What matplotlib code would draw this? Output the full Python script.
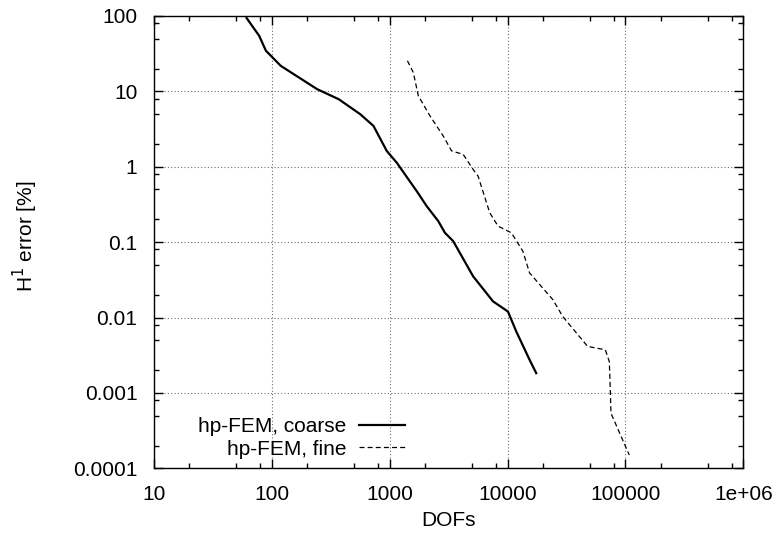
import matplotlib
matplotlib.use("Agg")
import matplotlib.pyplot as plt
from matplotlib.ticker import LogLocator, NullFormatter

# --- data ---
coarse_dofs = [61, 78, 89, 119, 242, 369, 562, 728, 944, 1148, 1694, 2060,
               2582, 2940, 3458, 5100, 7520, 10070, 11850, 15370, 17500]
coarse_err = [94, 54.7, 34.6, 21.8, 10.7, 7.87, 4.98, 3.48, 1.62, 1.13, 0.475, 0.30,
              0.19, 0.133, 0.103, 0.0352, 0.0164, 0.0120, 0.00653, 0.00275, 0.00183]

fine_dofs = [1413, 1585, 1750, 2197, 2844, 3350, 4200, 5097, 5620, 7060, 8300,
             10770, 13490, 15370, 24200, 29400, 47800, 67500, 73000, 74400, 75400, 107800]
fine_err = [25.5, 17.8, 8.7, 4.72, 2.56, 1.62, 1.46, 0.923, 0.75, 0.245, 0.163,
            0.133, 0.0757, 0.039, 0.0173, 0.0103, 0.00413, 0.00373, 0.0026, 0.0011,
            0.000537, 0.00015]

xticks = [10, 100, 1000, 10000, 100000, 1000000]
xtick_labels = ["10", "100", "1000", "10000", "100000", "1e+06"]
yticks = [0.0001, 0.001, 0.01, 0.1, 1, 10, 100]
ytick_labels = ["0.0001", "0.001", "0.01", "0.1", "1", "10", "100"]

plt.rcParams['font.family'] = ['Liberation Sans', 'DejaVu Sans']
plt.rcParams['font.size'] = 15

fig = plt.figure(figsize=(7.81, 5.38), dpi=100)
ax = fig.add_axes([0.1972, 0.1296, 0.7545, 0.8407])

ax.plot(coarse_dofs, coarse_err, color='black', lw=1.6, label='hp-FEM, coarse')
ax.plot(fine_dofs, fine_err, color='black', lw=0.9, dashes=(4, 2.5),
        label='hp-FEM, fine')

ax.set_xscale('log')
ax.set_yscale('log')
ax.set_xlim(10, 1e6)
ax.set_ylim(1e-4, 100)

ax.set_xticks(xticks)
ax.set_xticklabels(xtick_labels)
ax.set_yticks(yticks)
ax.set_yticklabels(ytick_labels)
ax.xaxis.set_minor_locator(LogLocator(base=10, subs=[2, 5, 8]))
ax.yaxis.set_minor_locator(LogLocator(base=10, subs=[2, 5, 8]))
ax.xaxis.set_minor_formatter(NullFormatter())
ax.yaxis.set_minor_formatter(NullFormatter())

ax.tick_params(which='both', direction='in', top=True, right=True, width=1)
ax.tick_params(which='major', length=6.5, pad=12)
ax.tick_params(which='minor', length=3.6)
for s in ax.spines.values():
    s.set_linewidth(1.0)

ax.grid(True, which='major', color='#6e6e6e', linestyle=(0, (1, 2)), lw=0.8)
ax.set_axisbelow(True)

ax.set_xlabel('DOFs', labelpad=5)
ax.set_ylabel('H$^1$ error [%]')
ax.yaxis.set_label_coords(-0.193, 0.514)

ax.legend(loc='lower right', bbox_to_anchor=(0.426, 0.021), frameon=False,
          markerfirst=False, handlelength=2.2, handletextpad=0.6,
          borderpad=0, borderaxespad=0, labelspacing=0.18)

fig.savefig('out.png', dpi=100)
